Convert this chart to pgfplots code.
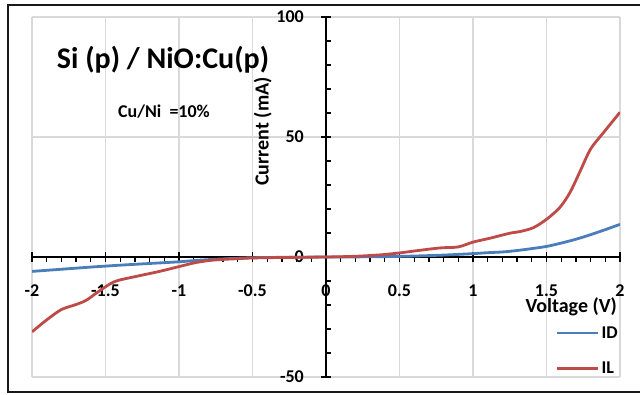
\documentclass[border=0pt]{standalone}
\usepackage{fontspec}
\setmainfont{Carlito}
\usepackage{pgfplots}
\pgfplotsset{compat=1.18}
\definecolor{cblue}{HTML}{4A7EBB}
\definecolor{cred}{HTML}{BE4B48}
\definecolor{cgrid}{HTML}{D9D9D9}
\begin{document}
\begin{tikzpicture}[x=1pt,y=1pt]
\path[use as bounding box] (0,0) rectangle (640,394);
\draw[line width=2pt, color=black!90] (700,389) -- (8,389) -- (8,2.5) -- (700,2.5);
\begin{axis}[
  at={(32pt,17pt)}, anchor=south west,
  scale only axis, width=588pt, height=360pt,
  xmin=-2, xmax=2, ymin=-50, ymax=100,
  axis lines=middle,
  axis line style={line width=1.3pt, -},
  xtick={-2,-1.5,-1,-0.5,0,0.5,1,1.5,2},
  ytick={-50,0,50,100},
  minor x tick num=4, minor y tick num=4,
  hide obscured x ticks=false, hide obscured y ticks=false,
  grid=major,
  major grid style={cgrid, line width=1.2pt},
  tick align=center,
  major tick length=10pt, minor tick length=5pt,
  tick style={black, line width=1.3pt},
  minor x tick style={yshift=-2.5pt},
  minor y tick style={xshift=2.5pt},
  /pgf/number format/assume math mode=true,
  xticklabel style={font=\fontsize{18}{20}\selectfont\bfseries, anchor=center, inner sep=0pt, yshift=-29pt},
  yticklabel style={font=\fontsize{18}{20}\selectfont\bfseries, anchor=east, inner sep=0pt, xshift=-17pt},
  xlabel={Voltage  (V)},
  ylabel={Current (mA)},
  every axis x label/.style={at={(axis cs:1.98,-20.9)}, anchor=east, font=\fontsize{20}{24}\selectfont\bfseries, inner sep=0pt},
  every axis y label/.style={at={(axis cs:-0.43,52.3)}, rotate=90, anchor=center, font=\fontsize{20}{24}\selectfont\bfseries, inner sep=0pt},
  legend style={at={(axis cs:2,-50)}, anchor=south east, draw=none, fill=none,
    font=\fontsize{18}{20}\selectfont\bfseries, row sep=18pt, inner sep=0pt},
  legend cell align=left,
  legend image code/.code={\draw[#1] (0pt,0pt) -- (41pt,0pt);},
]
\addplot[cblue, line width=2.8pt, smooth, line join=round] coordinates {
(-2.0,-6.0) (-1.8,-5.1) (-1.6,-4.2) (-1.5,-3.8) (-1.4,-3.4) (-1.2,-2.7)
(-1.0,-2.0) (-0.9,-1.5) (-0.8,-1.1) (-0.7,-0.8) (-0.6,-0.5) (-0.5,-0.3)
(-0.4,-0.2) (-0.2,-0.1) (0,0) (0.2,0.05) (0.4,0.15) (0.6,0.4) (0.8,0.8)
(1.0,1.4) (1.1,1.8) (1.2,2.1) (1.3,2.7) (1.4,3.5) (1.5,4.4) (1.6,5.8)
(1.7,7.4) (1.8,9.3) (1.9,11.4) (2.0,13.6)
};
\addlegendentry{ID}
\addplot[cred, line width=2.8pt, smooth, line join=round] coordinates {
(-2.0,-31.2) (-1.9,-26.2) (-1.8,-21.9) (-1.7,-19.8) (-1.63,-18.0) (-1.55,-14.5)
(-1.44,-10.3) (-1.3,-8.2) (-1.14,-6.1) (-1.0,-4.0) (-0.9,-2.5) (-0.8,-1.5)
(-0.7,-1.0) (-0.6,-0.7) (-0.5,-0.4) (-0.3,-0.2) (0,0) (0.2,0.3) (0.37,0.9)
(0.5,1.7) (0.64,2.8) (0.78,3.8) (0.9,4.2) (1.0,6.2) (1.12,7.9) (1.25,9.9)
(1.32,10.6) (1.41,12.2) (1.5,15.7) (1.59,20.6) (1.66,26.9) (1.73,35.9)
(1.8,45) (1.89,52) (2.0,60.3)
};
\addlegendentry{IL}
\node[font=\fontsize{30}{34}\selectfont\bfseries, inner sep=0pt] at (axis cs:-1.109,82.4) {Si (p) / NiO:Cu(p)};
\node[font=\fontsize{18}{20}\selectfont\bfseries, inner sep=0pt] at (axis cs:-1.102,60.7) {Cu/Ni\ \ =10\%};
\end{axis}
\end{tikzpicture}
\end{document}
